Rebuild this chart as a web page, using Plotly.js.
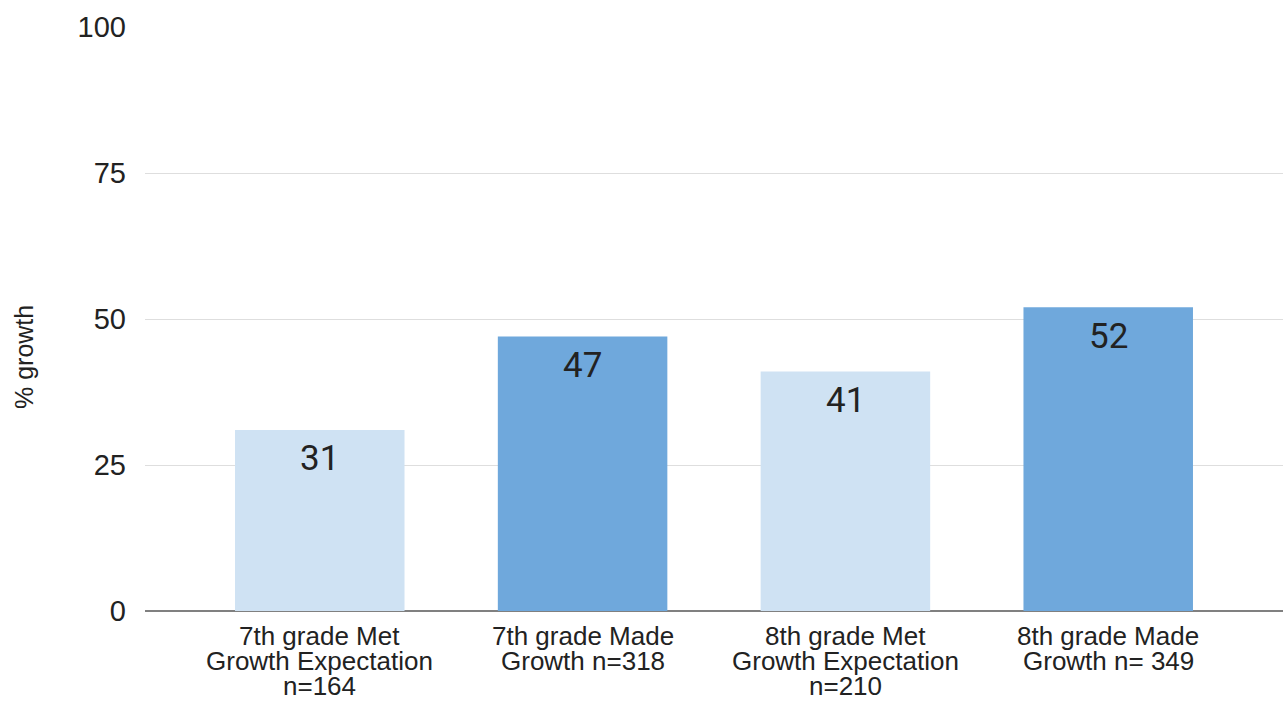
<!DOCTYPE html>
<html>
<head>
<meta charset="utf-8">
<script src="https://cdn.plot.ly/plotly-3.0.1.min.js"></script>
<style>html,body{margin:0;padding:0;background:#fff;}#chart{width:1283px;height:703px;}</style>
</head>
<body>
<div id="chart"></div>
<script>
const categories = ["7G Met", "7G Made", "8G Met", "8G Made"];
const categoryLabels = [
  ["7th grade Met", "Growth Expectation", "n=164"],
  ["7th grade Made", "Growth n=318"],
  ["8th grade Met", "Growth Expectation", "n=210"],
  ["8th grade Made", "Growth n= 349"]
];
const values = [31, 47, 41, 52];
const barColors = ["#cfe2f3", "#6fa8dc", "#cfe2f3", "#6fa8dc"];
const yTicks = [0, 25, 50, 75, 100];
const yTitle = "% growth";

const trace = {
  type: "bar",
  x: categories,
  y: values,
  marker: {color: barColors},
  width: 0.645,
  hoverinfo: "none"
};

const annotations = [];
// value labels inside the bars, near the top
categories.forEach((c, i) => {
  annotations.push({
    x: c, y: values[i], xref: "x", yref: "y",
    text: String(values[i]), showarrow: false,
    xanchor: "center", yanchor: "middle", yshift: -29,
    font: {family: "Roboto, Arial, sans-serif", size: 35, color: "#222222"}
  });
});
// category labels under the axis (tight line spacing)
categories.forEach((c, i) => {
  categoryLabels[i].forEach((line, j) => {
    annotations.push({
      x: c, y: 0, xref: "x", yref: "y",
      text: line, showarrow: false,
      xanchor: "center", yanchor: "top", yshift: -9 - j * 25,
      borderpad: 0,
      font: {family: "Liberation Sans, Arial, sans-serif", size: 26, color: "#222222"}
    });
  });
});
// y axis title
annotations.push({
  x: -0.1063, y: 0.435, xref: "paper", yref: "paper",
  text: yTitle, textangle: -90, showarrow: false,
  xanchor: "center", yanchor: "middle",
  font: {family: "Liberation Sans, Arial, sans-serif", size: 25, color: "#222222"}
});

const layout = {
  width: 1283,
  height: 703,
  margin: {l: 145, r: 0, t: 27, b: 92},
  paper_bgcolor: "#ffffff",
  plot_bgcolor: "#ffffff",
  showlegend: false,
  font: {family: "Liberation Sans, Arial, sans-serif", color: "#222222"},
  xaxis: {
    type: "category",
    range: [-0.665, 3.665],
    showgrid: false,
    showline: false,
    zeroline: false,
    ticks: "",
    showticklabels: false
  },
  yaxis: {
    range: [0, 100],
    tickvals: yTicks,
    ticktext: yTicks.map(String),
    showgrid: true,
    gridcolor: "#dedede",
    gridwidth: 1,
    zeroline: true,
    zerolinecolor: "#808080",
    zerolinewidth: 2,
    showline: false,
    ticks: "",
    ticklabelstandoff: 18,
    tickfont: {size: 29, color: "#222222"}
  },
  annotations: annotations
};

Plotly.newPlot("chart", [trace], layout, {displayModeBar: false, staticPlot: true});
</script>
</body>
</html>
